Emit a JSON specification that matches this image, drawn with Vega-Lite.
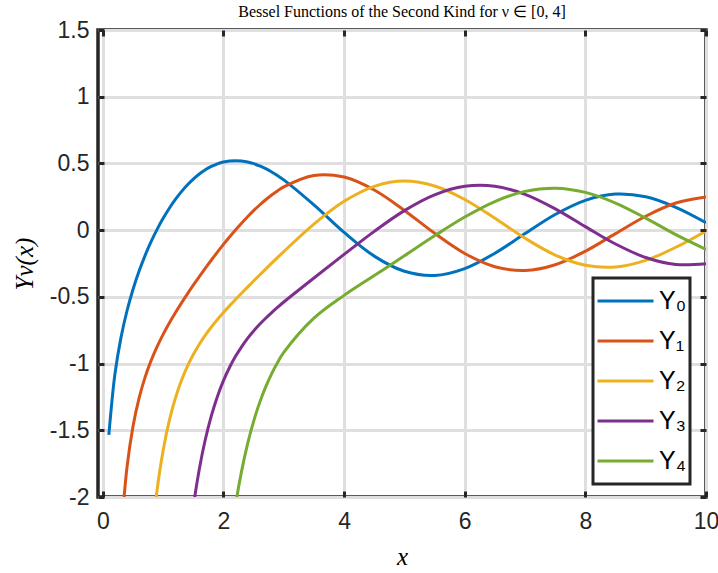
{
  "$schema": "https://vega.github.io/schema/vega-lite/v6.json",
  "width": 608,
  "height": 467,
  "autosize": {"type": "none"},
  "padding": {"left": 98, "top": 30, "right": 12, "bottom": 76},
  "background": "white",
  "title": {
    "text": "Bessel Functions of the Second Kind for ν ∈ [0, 4]",
    "font": "Liberation Serif",
    "fontSize": 16,
    "fontWeight": "normal",
    "color": "#000000",
    "anchor": "middle",
    "frame": "group",
    "baseline": "alphabetic",
    "offset": -14
  },
  "config": {
    "view": {"stroke": "#262626", "strokeWidth": 3.5},
    "axis": {
      "domain": false,
      "tickColor": "#262626",
      "tickWidth": 3,
      "tickSize": -6,
      "gridColor": "#dfdfdf",
      "gridWidth": 3,
      "labelFont": "Liberation Sans",
      "labelFontSize": 23,
      "labelColor": "#262626",
      "labelFlush": false,
      "titleFont": "Liberation Serif",
      "titleFontStyle": "italic",
      "titleFontWeight": "normal",
      "titleFontSize": 25,
      "titleColor": "#000000"
    },
    "legend": {"strokeWidth": 3}
  },
  "data": {
    "values": [
      {"x": 0.1, "y": -1.5342, "s": "Y₀"}, {"x": 0.2, "y": -1.0811, "s": "Y₀"}, {"x": 0.3, "y": -0.8073, "s": "Y₀"}, {"x": 0.4, "y": -0.606, "s": "Y₀"}, {"x": 0.5, "y": -0.4445, "s": "Y₀"},
      {"x": 0.6, "y": -0.3085, "s": "Y₀"}, {"x": 0.7, "y": -0.1907, "s": "Y₀"}, {"x": 0.8, "y": -0.0868, "s": "Y₀"}, {"x": 0.9, "y": 0.0056, "s": "Y₀"}, {"x": 1.0, "y": 0.0883, "s": "Y₀"},
      {"x": 1.1, "y": 0.1622, "s": "Y₀"}, {"x": 1.2, "y": 0.2281, "s": "Y₀"}, {"x": 1.3, "y": 0.2865, "s": "Y₀"}, {"x": 1.4, "y": 0.3379, "s": "Y₀"}, {"x": 1.5, "y": 0.3824, "s": "Y₀"},
      {"x": 1.6, "y": 0.4204, "s": "Y₀"}, {"x": 1.7, "y": 0.452, "s": "Y₀"}, {"x": 1.8, "y": 0.4774, "s": "Y₀"}, {"x": 1.9, "y": 0.4968, "s": "Y₀"}, {"x": 2.0, "y": 0.5104, "s": "Y₀"},
      {"x": 2.1, "y": 0.5183, "s": "Y₀"}, {"x": 2.2, "y": 0.5208, "s": "Y₀"}, {"x": 2.3, "y": 0.5181, "s": "Y₀"}, {"x": 2.4, "y": 0.5104, "s": "Y₀"}, {"x": 2.5, "y": 0.4981, "s": "Y₀"},
      {"x": 2.6, "y": 0.4813, "s": "Y₀"}, {"x": 2.7, "y": 0.4605, "s": "Y₀"}, {"x": 2.8, "y": 0.4359, "s": "Y₀"}, {"x": 2.9, "y": 0.4079, "s": "Y₀"}, {"x": 3.0, "y": 0.3769, "s": "Y₀"},
      {"x": 3.5, "y": 0.189, "s": "Y₀"}, {"x": 4.0, "y": -0.0169, "s": "Y₀"}, {"x": 4.5, "y": -0.1947, "s": "Y₀"}, {"x": 5.0, "y": -0.3085, "s": "Y₀"}, {"x": 5.5, "y": -0.3395, "s": "Y₀"},
      {"x": 6.0, "y": -0.2882, "s": "Y₀"}, {"x": 6.5, "y": -0.1732, "s": "Y₀"}, {"x": 7.0, "y": -0.026, "s": "Y₀"}, {"x": 7.5, "y": 0.1173, "s": "Y₀"}, {"x": 8.0, "y": 0.2235, "s": "Y₀"},
      {"x": 8.5, "y": 0.2702, "s": "Y₀"}, {"x": 9.0, "y": 0.2499, "s": "Y₀"}, {"x": 9.5, "y": 0.1712, "s": "Y₀"}, {"x": 10.0, "y": 0.0557, "s": "Y₀"},

      {"x": 0.3, "y": -2.2931, "s": "Y₁"}, {"x": 0.4, "y": -1.7809, "s": "Y₁"}, {"x": 0.5, "y": -1.4715, "s": "Y₁"},
      {"x": 0.6, "y": -1.2604, "s": "Y₁"}, {"x": 0.7, "y": -1.1032, "s": "Y₁"}, {"x": 0.8, "y": -0.9781, "s": "Y₁"}, {"x": 0.9, "y": -0.8731, "s": "Y₁"}, {"x": 1.0, "y": -0.7812, "s": "Y₁"},
      {"x": 1.1, "y": -0.6981, "s": "Y₁"}, {"x": 1.2, "y": -0.6211, "s": "Y₁"}, {"x": 1.3, "y": -0.5485, "s": "Y₁"}, {"x": 1.4, "y": -0.4791, "s": "Y₁"}, {"x": 1.5, "y": -0.4123, "s": "Y₁"},
      {"x": 1.6, "y": -0.3476, "s": "Y₁"}, {"x": 1.7, "y": -0.2847, "s": "Y₁"}, {"x": 1.8, "y": -0.2237, "s": "Y₁"}, {"x": 1.9, "y": -0.1644, "s": "Y₁"}, {"x": 2.0, "y": -0.107, "s": "Y₁"},
      {"x": 2.1, "y": -0.0517, "s": "Y₁"}, {"x": 2.2, "y": 0.0015, "s": "Y₁"}, {"x": 2.3, "y": 0.0523, "s": "Y₁"}, {"x": 2.4, "y": 0.1005, "s": "Y₁"}, {"x": 2.5, "y": 0.1459, "s": "Y₁"},
      {"x": 2.6, "y": 0.1884, "s": "Y₁"}, {"x": 2.7, "y": 0.2276, "s": "Y₁"}, {"x": 2.8, "y": 0.2635, "s": "Y₁"}, {"x": 2.9, "y": 0.2959, "s": "Y₁"}, {"x": 3.0, "y": 0.3247, "s": "Y₁"},
      {"x": 3.5, "y": 0.4102, "s": "Y₁"}, {"x": 4.0, "y": 0.3979, "s": "Y₁"}, {"x": 4.5, "y": 0.301, "s": "Y₁"}, {"x": 5.0, "y": 0.1479, "s": "Y₁"}, {"x": 5.5, "y": -0.0237, "s": "Y₁"},
      {"x": 6.0, "y": -0.175, "s": "Y₁"}, {"x": 6.5, "y": -0.2741, "s": "Y₁"}, {"x": 7.0, "y": -0.3027, "s": "Y₁"}, {"x": 7.5, "y": -0.2591, "s": "Y₁"}, {"x": 8.0, "y": -0.1581, "s": "Y₁"},
      {"x": 8.5, "y": -0.0262, "s": "Y₁"}, {"x": 9.0, "y": 0.1043, "s": "Y₁"}, {"x": 9.5, "y": 0.2032, "s": "Y₁"}, {"x": 10.0, "y": 0.249, "s": "Y₁"},

      {"x": 0.8, "y": -2.3586, "s": "Y₂"}, {"x": 0.9, "y": -1.9459, "s": "Y₂"}, {"x": 1.0, "y": -1.6507, "s": "Y₂"},
      {"x": 1.1, "y": -1.4315, "s": "Y₂"}, {"x": 1.2, "y": -1.2633, "s": "Y₂"}, {"x": 1.3, "y": -1.1304, "s": "Y₂"}, {"x": 1.4, "y": -1.0224, "s": "Y₂"}, {"x": 1.5, "y": -0.9322, "s": "Y₂"},
      {"x": 1.6, "y": -0.8549, "s": "Y₂"}, {"x": 1.7, "y": -0.787, "s": "Y₂"}, {"x": 1.8, "y": -0.726, "s": "Y₂"}, {"x": 1.9, "y": -0.6699, "s": "Y₂"}, {"x": 2.0, "y": -0.6174, "s": "Y₂"},
      {"x": 2.1, "y": -0.5675, "s": "Y₂"}, {"x": 2.2, "y": -0.5194, "s": "Y₂"}, {"x": 2.3, "y": -0.4726, "s": "Y₂"}, {"x": 2.4, "y": -0.4267, "s": "Y₂"}, {"x": 2.5, "y": -0.3813, "s": "Y₂"},
      {"x": 2.6, "y": -0.3365, "s": "Y₂"}, {"x": 2.7, "y": -0.2919, "s": "Y₂"}, {"x": 2.8, "y": -0.2477, "s": "Y₂"}, {"x": 2.9, "y": -0.2038, "s": "Y₂"}, {"x": 3.0, "y": -0.1604, "s": "Y₂"},
      {"x": 3.5, "y": 0.0454, "s": "Y₂"}, {"x": 4.0, "y": 0.2159, "s": "Y₂"}, {"x": 4.5, "y": 0.3285, "s": "Y₂"}, {"x": 5.0, "y": 0.3677, "s": "Y₂"}, {"x": 5.5, "y": 0.3308, "s": "Y₂"},
      {"x": 6.0, "y": 0.2299, "s": "Y₂"}, {"x": 6.5, "y": 0.0889, "s": "Y₂"}, {"x": 7.0, "y": -0.0605, "s": "Y₂"}, {"x": 7.5, "y": -0.1864, "s": "Y₂"}, {"x": 8.0, "y": -0.263, "s": "Y₂"},
      {"x": 8.5, "y": -0.2764, "s": "Y₂"}, {"x": 9.0, "y": -0.2268, "s": "Y₂"}, {"x": 9.5, "y": -0.1284, "s": "Y₂"}, {"x": 10.0, "y": -0.0059, "s": "Y₂"},

      {"x": 1.4, "y": -2.442, "s": "Y₃"}, {"x": 1.5, "y": -2.0735, "s": "Y₃"},
      {"x": 1.6, "y": -1.7897, "s": "Y₃"}, {"x": 1.7, "y": -1.567, "s": "Y₃"}, {"x": 1.8, "y": -1.3896, "s": "Y₃"}, {"x": 1.9, "y": -1.2459, "s": "Y₃"}, {"x": 2.0, "y": -1.1278, "s": "Y₃"},
      {"x": 2.1, "y": -1.0293, "s": "Y₃"}, {"x": 2.2, "y": -0.9459, "s": "Y₃"}, {"x": 2.3, "y": -0.8742, "s": "Y₃"}, {"x": 2.4, "y": -0.8116, "s": "Y₃"}, {"x": 2.5, "y": -0.7561, "s": "Y₃"},
      {"x": 2.6, "y": -0.706, "s": "Y₃"}, {"x": 2.7, "y": -0.6601, "s": "Y₃"}, {"x": 2.8, "y": -0.6174, "s": "Y₃"}, {"x": 2.9, "y": -0.5771, "s": "Y₃"}, {"x": 3.0, "y": -0.5385, "s": "Y₃"},
      {"x": 3.5, "y": -0.3583, "s": "Y₃"}, {"x": 4.0, "y": -0.182, "s": "Y₃"}, {"x": 4.5, "y": -0.009, "s": "Y₃"}, {"x": 5.0, "y": 0.1463, "s": "Y₃"}, {"x": 5.5, "y": 0.2644, "s": "Y₃"},
      {"x": 6.0, "y": 0.3282, "s": "Y₃"}, {"x": 6.5, "y": 0.3288, "s": "Y₃"}, {"x": 7.0, "y": 0.2681, "s": "Y₃"}, {"x": 7.5, "y": 0.1597, "s": "Y₃"}, {"x": 8.0, "y": 0.0265, "s": "Y₃"},
      {"x": 8.5, "y": -0.1039, "s": "Y₃"}, {"x": 9.0, "y": -0.2051, "s": "Y₃"}, {"x": 9.5, "y": -0.2573, "s": "Y₃"}, {"x": 10.0, "y": -0.2514, "s": "Y₃"},

      {"x": 2.0, "y": -2.7659, "s": "Y₄"},
      {"x": 2.1, "y": -2.3733, "s": "Y₄"}, {"x": 2.2, "y": -2.0603, "s": "Y₄"}, {"x": 2.3, "y": -1.808, "s": "Y₄"}, {"x": 2.4, "y": -1.6024, "s": "Y₄"}, {"x": 2.5, "y": -1.4332, "s": "Y₄"},
      {"x": 2.6, "y": -1.2927, "s": "Y₄"}, {"x": 2.7, "y": -1.1749, "s": "Y₄"}, {"x": 2.8, "y": -1.0752, "s": "Y₄"}, {"x": 2.9, "y": -0.9901, "s": "Y₄"}, {"x": 3.0, "y": -0.9167, "s": "Y₄"},
      {"x": 3.5, "y": -0.6597, "s": "Y₄"}, {"x": 4.0, "y": -0.4889, "s": "Y₄"}, {"x": 4.5, "y": -0.3405, "s": "Y₄"}, {"x": 5.0, "y": -0.1921, "s": "Y₄"}, {"x": 5.5, "y": -0.0425, "s": "Y₄"},
      {"x": 6.0, "y": 0.0984, "s": "Y₄"}, {"x": 6.5, "y": 0.2146, "s": "Y₄"}, {"x": 7.0, "y": 0.2903, "s": "Y₄"}, {"x": 7.5, "y": 0.3142, "s": "Y₄"}, {"x": 8.0, "y": 0.2829, "s": "Y₄"},
      {"x": 8.5, "y": 0.203, "s": "Y₄"}, {"x": 9.0, "y": 0.09, "s": "Y₄"}, {"x": 9.5, "y": -0.034, "s": "Y₄"}, {"x": 10.0, "y": -0.1449, "s": "Y₄"}
    ]
  },
  "layer": [
    {
      "mark": {"type": "line", "clip": true, "strokeWidth": 3, "interpolate": "catmull-rom"},
      "encoding": {
        "x": {
          "field": "x", "type": "quantitative",
          "scale": {"domain": [-0.08, 10], "nice": false, "zero": false},
          "axis": {"orient": "bottom", "values": [0, 2, 4, 6, 8, 10], "labelPadding": 19, "title": "x", "titlePadding": 11, "zindex": 0}
        },
        "y": {
          "field": "y", "type": "quantitative",
          "scale": {"domain": [-2, 1.5], "nice": false, "zero": false},
          "axis": {"orient": "left", "values": [-2, -1.5, -1, -0.5, 0, 0.5, 1, 1.5], "format": "~g", "labelExpr": "replace(datum.label, '−', '-')", "labelPadding": 15, "title": "Yν(x)", "titlePadding": 12, "zindex": 0}
        },
        "color": {
          "field": "s", "type": "nominal",
          "scale": {"domain": ["Y₀", "Y₁", "Y₂", "Y₃", "Y₄"], "range": ["#0072BD", "#D95319", "#EDB120", "#7E2F8E", "#77AC30"]},
          "legend": {
            "orient": "none", "legendX": 495, "legendY": 248, "title": null,
            "symbolType": "stroke", "symbolSize": 3136, "symbolStrokeWidth": 3,
            "clipHeight": 40, "rowPadding": 0, "padding": 3, "labelOffset": 4,
            "labelFont": "Liberation Sans", "labelFontSize": 25, "labelColor": "#000000", "labelLimit": 0,
            "strokeColor": "#262626", "fillColor": "white"
          }
        }
      }
    },
    {
      "mark": {"type": "line", "clip": true, "opacity": 0},
      "encoding": {
        "x": {
          "field": "x", "type": "quantitative",
          "axis": {"orient": "top", "values": [0, 2, 4, 6, 8, 10], "labels": false, "grid": false, "title": null, "zindex": 1}
        },
        "y": {
          "field": "y", "type": "quantitative",
          "axis": {"orient": "right", "values": [-2, -1.5, -1, -0.5, 0, 0.5, 1, 1.5], "labels": false, "grid": false, "title": null, "zindex": 1}
        }
      }
    }
  ],
  "resolve": {"axis": {"x": "independent", "y": "independent"}}
}
